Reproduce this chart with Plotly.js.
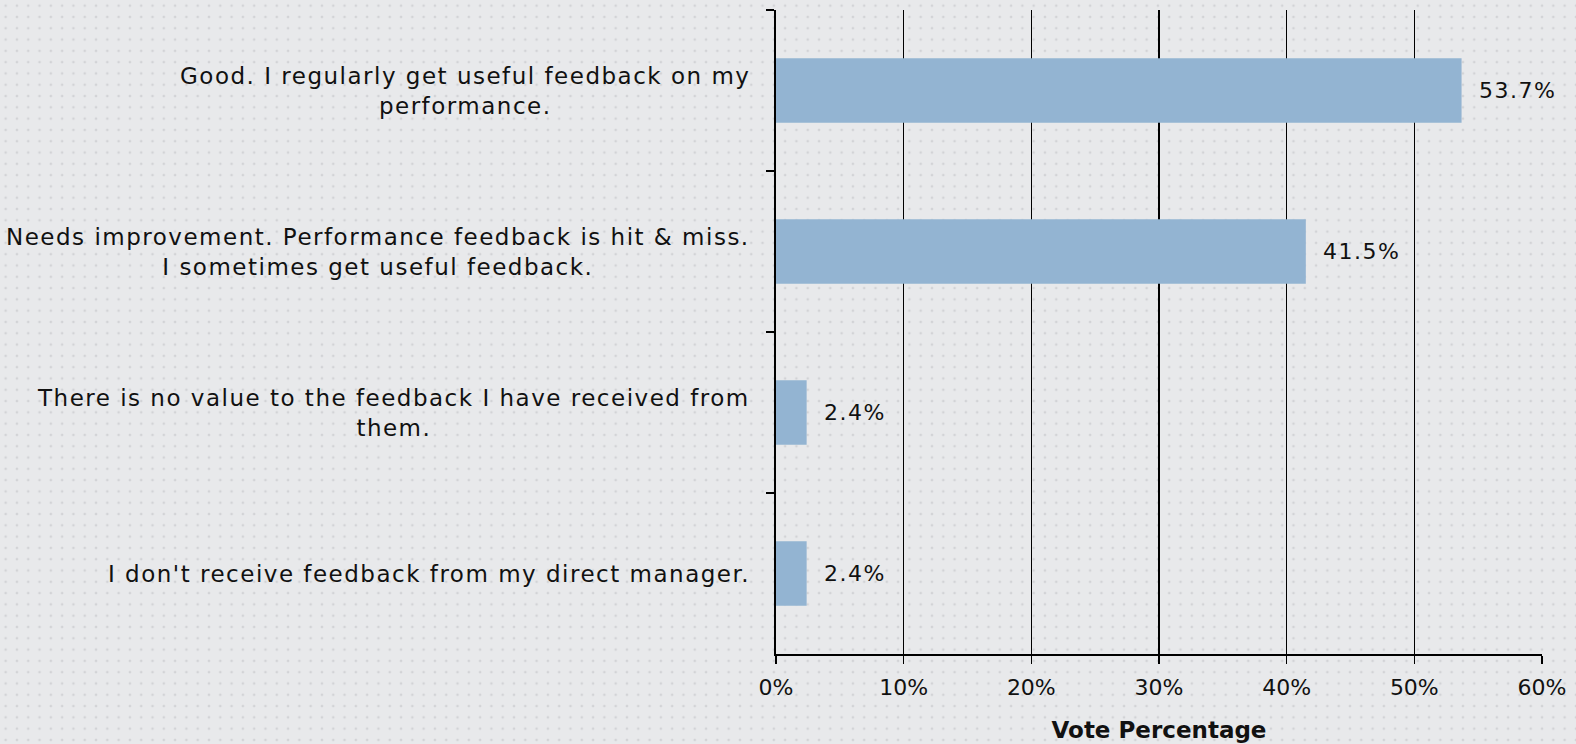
<!DOCTYPE html>
<html>
<head>
<meta charset="utf-8">
<script src="https://cdn.plot.ly/plotly-3.0.1.min.js"></script>
<style>
  html, body { margin: 0; padding: 0; }
  body {
    width: 1576px; height: 744px; overflow: hidden;
    background-color: #e8e9eb;
    background-image: radial-gradient(circle, #d2d3d6 1.1px, rgba(0,0,0,0) 1.6px);
    background-size: 11.3px 11.3px;
  }
  #chart { width: 1576px; height: 744px; }
  .annotation-text { letter-spacing: 1.5px; }
</style>
</head>
<body>
<div id="chart"></div>
<script>
const categories = [
  "Good. I regularly get useful feedback on my<br>performance.",
  "Needs improvement. Performance feedback is hit & miss.<br>I sometimes get useful feedback.",
  "There is no value to the feedback I have received from<br>them.",
  "I don't receive feedback from my direct manager."
];
const catKeys = ["c1", "c2", "c3", "c4"];
const values = [53.7, 41.5, 2.4, 2.4];
const valueLabels = ["53.7%", "41.5%", "2.4%", "2.4%"];
const xTickVals = [0, 10, 20, 30, 40, 50, 60];
const xTickText = ["0%", "10%", "20%", "30%", "40%", "50%", "60%"];

const FONT = "DejaVu Sans, sans-serif";

const trace = {
  type: "bar",
  orientation: "h",
  x: values,
  y: catKeys,
  marker: { color: "#93b4d2" },
  hoverinfo: "skip"
};

const annotations = [];
categories.forEach((c, i) => {
  annotations.push({
    text: c, xref: "paper", x: 0, xanchor: "right", xshift: -24,
    yref: "y", y: catKeys[i], yanchor: "middle", align: "center",
    showarrow: false, font: { family: FONT, size: 23, color: "#111" }
  });
  annotations.push({
    text: valueLabels[i], xref: "x", x: values[i], xanchor: "left", xshift: 15,
    yref: "y", y: catKeys[i], yanchor: "middle",
    showarrow: false, font: { family: FONT, size: 22, color: "#111" }
  });
});

const layout = {
  width: 1576, height: 744,
  margin: { l: 776, r: 34, t: 10, b: 90, pad: 0 },
  paper_bgcolor: "rgba(0,0,0,0)",
  plot_bgcolor: "rgba(0,0,0,0)",
  showlegend: false,
  bargap: 0.6,
  font: { family: FONT, size: 22, color: "#111" },
  xaxis: {
    range: [0, 60], tickvals: xTickVals, ticktext: xTickText,
    showgrid: true, gridcolor: "#000", gridwidth: 1.5,
    zeroline: false,
    showline: true, linecolor: "#000", linewidth: 1.6,
    ticks: "outside", ticklen: 8, tickwidth: 1.6, tickcolor: "#000",
    ticklabelstandoff: 5,
    tickfont: { family: FONT, size: 22, color: "#111" },
    title: { text: "<b>Vote Percentage</b>", font: { family: FONT, size: 23, color: "#111" }, standoff: 23 },
    fixedrange: true
  },
  yaxis: {
    type: "category", autorange: "reversed",
    showticklabels: false, tickson: "boundaries",
    ticks: "outside", ticklen: 8, tickwidth: 1.6, tickcolor: "#000",
    showline: true, linecolor: "#000", linewidth: 1.6,
    showgrid: false, zeroline: false, fixedrange: true
  },
  annotations: annotations
};

Plotly.newPlot("chart", [trace], layout, { displayModeBar: false, staticPlot: true });
</script>
</body>
</html>
